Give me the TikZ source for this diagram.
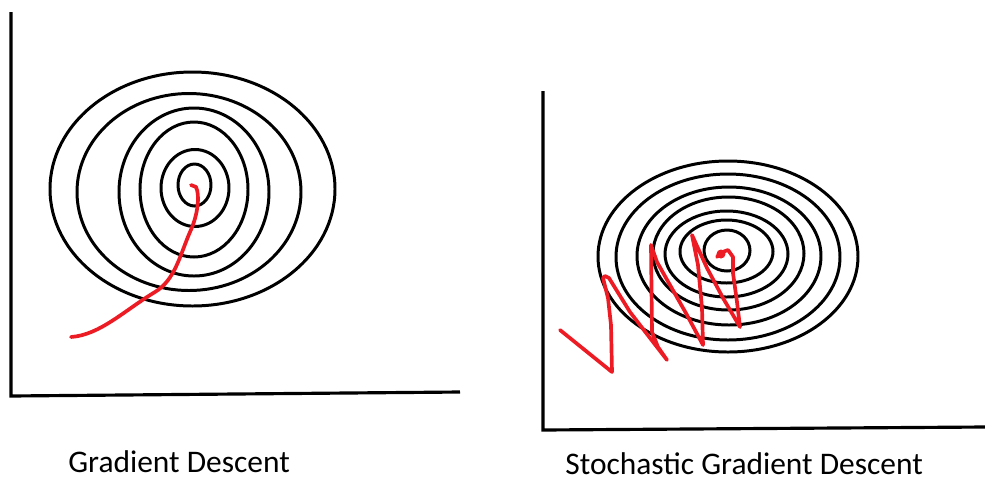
\documentclass[tikz,border=0pt]{standalone}
\usepackage{fontspec}
\setmainfont{Carlito}
\usepackage{tikz}
\usetikzlibrary{positioning}
\definecolor{PenRed}{RGB}{237,28,36}
\definecolor{PenBlack}{RGB}{0,0,0}

\begin{document}
\begin{tikzpicture}[
    x=0.02cm, y=-0.02cm,
    axis/.style={draw=PenBlack, line width=1.8pt},
    contour/.style={draw=PenBlack, line width=1.7pt},
    path/.style={draw=PenRed, line width=2.1pt, line join=round, line cap=round},
    caption/.style={anchor=base west, inner sep=0pt, font=\fontsize{17.9pt}{20pt}\selectfont, text=PenBlack},
]
\useasboundingbox (0,0) rectangle (985,478);

\coordinate (gdtop) at (11,12);
\coordinate (gdorigin) at (11,396);
\coordinate (gdright) at (460,392);
\coordinate (sgdtop) at (543,91);
\coordinate (sgdorigin) at (543,430);
\coordinate (sgdright) at (985,427);

\draw[axis] (gdtop) -- (gdorigin) -- (gdright);
\draw[axis] (sgdtop) -- (sgdorigin) -- (sgdright);

\foreach \cx/\cy/\rx/\ry in {192.5/189/142.5/117, 189/192/112/98.5, 194/192/75/84,
    194/189.5/54/67.5, 195/188/34/38.5, 194.5/185/16.5/21}
    \draw[contour] (\cx,\cy) ellipse [x radius=\rx, y radius=\ry];

\foreach \cx/\cy/\rx/\ry in {728/256.5/130/95.5, 728/257/112/83, 729/256/92/69,
    728.5/253.5/75.5/56.5, 726.5/254/61.5/43, 726.5/251.5/46.5/31.5, 727/250.5/23/20.5}
    \draw[contour] (\cx,\cy) ellipse [x radius=\rx, y radius=\ry];

\draw[path] (71,337) .. controls (100,335) and (125,310) .. (155,292)
    .. controls (175,280) and (180,255) .. (190,232)
    .. controls (198,215) and (200,195) .. (196,187) -- (191,185);

\draw[path] (560,330) -- (612,372) -- (611,325) -- (608,298) -- (603,278)
    -- (605,276) -- (609,278) -- (630,312) -- (650,338) -- (667,360)
    -- (658,347) -- (652,332) -- (651,245) -- (657,262) -- (670,285)
    -- (687,315) -- (703,345) -- (702,308) -- (698,265) -- (692,235)
    -- (707,268) -- (723,298) -- (740,327) -- (737,302) -- (733,273)
    -- (733,257) -- (728,250) -- (720,253) -- (717,257);
\fill[PenRed] (721,254) circle [radius=4.5];

\node[caption] (gdlabel) at (68,472) {Gradient Descent};
\node[caption] (sgdlabel) at (565,474) {Stochastic Gradient Descent};
\end{tikzpicture}
\end{document}
